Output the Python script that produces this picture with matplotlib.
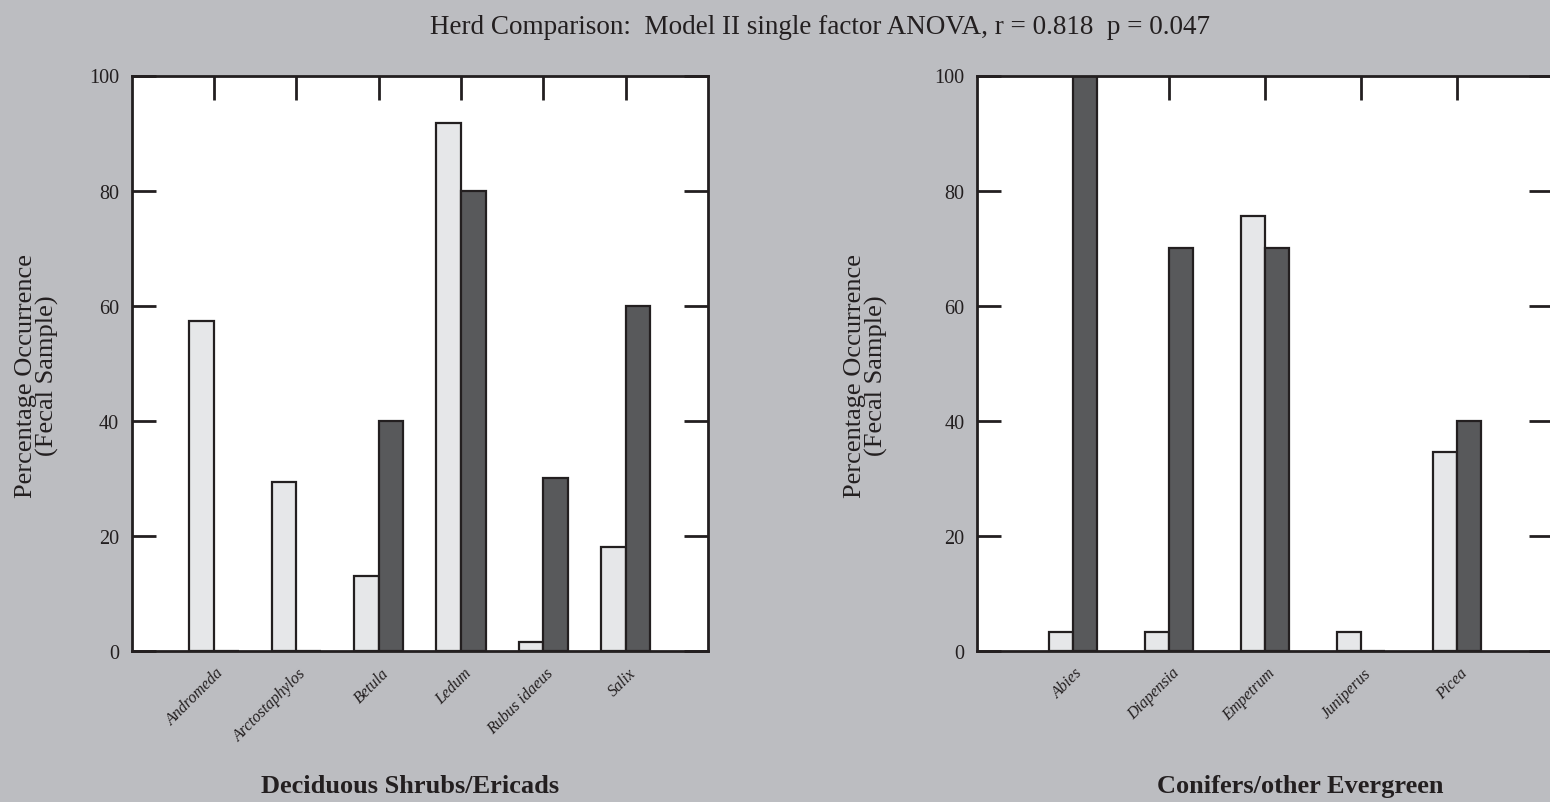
import matplotlib
matplotlib.use("Agg")
import matplotlib.pyplot as plt
import matplotlib.transforms as mtransforms
import numpy as np

plt.rcParams["font.family"] = ["Liberation Serif", "DejaVu Serif"]

# ---- data -------------------------------------------------------------
title = "Herd Comparison:  Model II single factor ANOVA, r = 0.818  p = 0.047"
ylabel = "Percentage Occurrence\n(Fecal Sample)"

decid_names = ["Andromeda", "Arctostaphylos", "Betula", "Ledum", "Rubus idaeus", "Salix"]
decid_light = [57.3, 29.4, 13.0, 91.7, 1.5, 18.0]
decid_dark = [0, 0, 40, 80, 30, 60]
decid_title = "Deciduous Shrubs/Ericads"

conif_names = ["Abies", "Diapensia", "Empetrum", "Juniperus", "Picea"]
conif_light = [3.3, 3.3, 75.5, 3.3, 34.5]
conif_dark = [100, 70, 70, 0, 40]
conif_title = "Conifers/other Evergreen"

yticks = [0, 20, 40, 60, 80, 100]

# ---- style ------------------------------------------------------------
BG = "#bcbdc1"
LIGHT = "#e6e7e9"
DARK = "#58595b"
EDGE = "#231f20"

W, H = 1550, 803
fig = plt.figure(figsize=(W / 100, H / 100), dpi=100, facecolor=BG)


def px_rect(x0, y0, x1, y1):
    return [x0 / W, 1 - y1 / H, (x1 - x0) / W, (y1 - y0) / H]


def panel(rect, names, light, dark, width, label_dx):
    ax = fig.add_axes(rect)
    ax.set_facecolor("white")
    x = np.arange(1, len(names) + 1)
    ax.bar(x - width, light, width=width, align="edge", color=LIGHT,
           edgecolor=EDGE, linewidth=1.6, zorder=2)
    ax.bar(x, dark, width=width, align="edge", color=DARK,
           edgecolor=EDGE, linewidth=1.6, zorder=2)
    ax.set_xlim(0, len(names) + 1)
    ax.set_ylim(0, 100)
    ax.set_yticks(yticks)
    ax.set_xticks(x)
    ax.set_xticklabels(names, rotation=45, ha="right", va="top",
                       rotation_mode="anchor", fontstyle="italic", fontsize=11.5)
    for s in ax.spines.values():
        s.set_linewidth(2)
        s.set_color(EDGE)
        s.set_zorder(3)
    ax.tick_params(axis="y", direction="in", length=17, width=2, color=EDGE,
                   left=True, right=True, labelsize=14.5, pad=9, labelcolor=EDGE)
    ax.tick_params(axis="x", direction="in", length=17, width=2, color=EDGE,
                   top=True, bottom=False, pad=10, labelcolor=EDGE)
    off = mtransforms.ScaledTranslation(label_dx / 100, 0, fig.dpi_scale_trans)
    for lab in ax.get_xticklabels():
        lab.set_transform(lab.get_transform() + off)
    return ax


ax1 = panel(px_rect(131.6, 76.5, 708, 651.7), decid_names, decid_light,
            decid_dark, 0.3, 2)
ax2 = panel(px_rect(977, 76.5, 1553, 651.7), conif_names, conif_light,
            conif_dark, 0.25, 2)

fig.text(820 / W, 1 - 28 / H, title, ha="center", va="center",
         fontsize=19.5, color=EDGE)

for xc in (37, 866):
    fig.text(xc / W, 1 - 376 / H, ylabel, rotation=90, ha="center",
             va="center", multialignment="center", fontsize=19, color=EDGE,
             linespacing=0.95)

fig.text(410 / W, 1 - 787 / H, decid_title, ha="center", va="center",
         fontsize=19, fontweight="bold", color=EDGE)
fig.text(1300 / W, 1 - 787 / H, conif_title, ha="center", va="center",
         fontsize=19, fontweight="bold", color=EDGE)

fig.savefig("out.png", dpi=100, facecolor=BG)
